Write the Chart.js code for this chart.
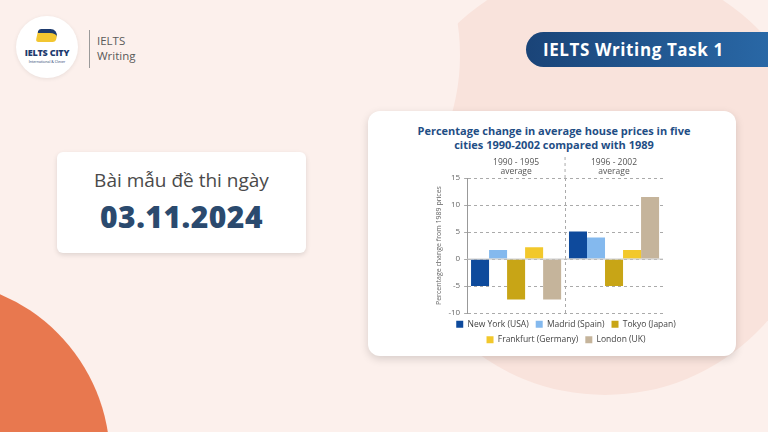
<!DOCTYPE html>
<html lang="vi">
<head>
<meta charset="UTF-8">
<title>IELTS Writing Task 1</title>
<script src="https://cdn.jsdelivr.net/npm/chart.js"></script>
<style>
    html, body {
        margin: 0;
        padding: 0;
    }
    body {
        width: 768px;
        height: 432px;
        position: relative;
        overflow: hidden;
        background: #fcf0ec;
        font-family: "Open Sans", sans-serif;
    }
    .blob {
        position: absolute;
        border-radius: 50%;
    }
    .pink { left: 390px; top: -35px; width: 430px; height: 430px; background: #f9e3dc; }
    .light { left: 30px; top: -160px; width: 430px; height: 430px; background: #fcf0ec; }
    .orange { left: -250px; top: 280px; width: 360px; height: 360px; background: #e8784f; }

    .logo {
        position: absolute;
        left: 16px; top: 16px;
        width: 62px; height: 62px;
        border-radius: 50%;
        background: #fff;
        box-shadow: 0 1px 4px rgba(0,0,0,0.08);
        text-align: center;
    }
    .logo .book {
        position: absolute;
        left: 21px; top: 13px;
        width: 20px; height: 9px;
        background: #f2c631;
        border-top: 4px solid #1d3b6e;
        border-radius: 3px 8px 3px 3px;
        transform: skewX(-12deg);
    }
    .logo .name {
        position: absolute;
        left: 0; right: 0; top: 32px;
        font-size: 9px; font-weight: 800; line-height: 10px;
        color: #1d3b6e;
        letter-spacing: -0.2px;
    }
    .logo .sub {
        position: absolute;
        left: 0; right: 0; top: 43px;
        font-size: 3.6px; line-height: 5px;
        color: #1d3b6e;
    }
    .divider {
        position: absolute;
        left: 89px; top: 30px;
        width: 1px; height: 38px;
        background: #9a9a9a;
    }
    .brand {
        position: absolute;
        left: 97px;
        font-size: 11.5px; line-height: 14px;
        color: #5a5a5a;
    }
    .banner {
        position: absolute;
        left: 526px; top: 32px;
        width: 260px; height: 35px;
        border-radius: 18px 0 0 18px;
        background: linear-gradient(90deg, #1a4478, #2a6aa9);
        color: #fff;
        font-size: 17px; font-weight: 700;
        letter-spacing: 0.6px;
        line-height: 35px;
        padding-left: 17px;
        box-sizing: border-box;
    }
    .datecard {
        position: absolute;
        left: 57px; top: 152px;
        width: 249px; height: 101px;
        background: #fff;
        border-radius: 6px;
        box-shadow: 0 2px 5px rgba(0,0,0,0.12);
        text-align: center;
    }
    .datecard .lbl {
        margin-top: 15px;
        font-size: 19px;
        color: #4a4a4a;
    }
    .datecard .date {
        margin-top: 3px;
        font-size: 30px; font-weight: 800;
        color: #2b4a6e;
        letter-spacing: 0.5px;
    }
    .card {
        position: absolute;
        left: 368px; top: 111px;
        width: 368px; height: 245px;
        background: #fff;
        border-radius: 12px;
        box-shadow: 0 3px 8px rgba(0,0,0,0.15);
    }
    .title {
        position: absolute;
        left: 368px; width: 372px; top: 124px;
        text-align: center;
        font-size: 11px; font-weight: 700; line-height: 13.5px;
        color: #1f4e85;
    }
    .chart-box {
        position: absolute;
        left: 434px; top: 156px;
        width: 264px; height: 198px;
    }
</style>
</head>
<body>
    <div class="blob pink"></div>
    <div class="blob light"></div>
    <div class="blob orange"></div>

    <div class="logo">
        <div class="book"></div>
        <div class="name">IELTS CITY</div>
        <div class="sub">International &amp; Clever</div>
    </div>
    <div class="divider"></div>
    <div class="brand" style="top: 34px">IELTS</div>
    <div class="brand" style="top: 49px">Writing</div>

    <div class="banner">IELTS Writing Task 1</div>

    <div class="datecard">
        <div class="lbl">Bài mẫu đề thi ngày</div>
        <div class="date">03.11.2024</div>
    </div>

    <div class="card"></div>
    <div class="title">Percentage change in average house prices in five<br>cities 1990-2002 compared with 1989</div>
    <div class="chart-box"><canvas id="houseChart"></canvas></div>

    <script>
        // data
        const periods = [['1990 - 1995', 'average'], ['1996 - 2002', 'average']];
        const cities = ['New York (USA)', 'Madrid (Spain)', 'Tokyo (Japan)', 'Frankfurt (Germany)', 'London (UK)'];
        const newYork = [-5, 5.1];
        const madrid = [1.7, 4];
        const tokyo = [-7.5, -5];
        const frankfurt = [2.2, 1.7];
        const london = [-7.5, 11.5];
        const yTicks = [-10, -5, 0, 5, 10, 15];

        const colors = ['#0e4a9c', '#84b9ee', '#c8a516', '#f2c82c', '#c5b49b'];
        const series = [newYork, madrid, tokyo, frankfurt, london];

        // solid light line at zero, and the period divider carried up between the labels
        const extraLines = {
            id: 'extraLines',
            afterDatasetsDraw(chart) {
                const { left, right, top } = chart.chartArea;
                const xs = chart.scales.x;
                const c = chart.ctx;
                const y0 = chart.scales.y.getPixelForValue(0);
                const mid = (xs.getPixelForValue(0) + xs.getPixelForValue(1)) / 2;
                c.save();
                c.strokeStyle = '#c8c8c8';
                c.lineWidth = 1;
                c.beginPath();
                c.moveTo(left, y0);
                c.lineTo(right, y0);
                c.stroke();
                c.strokeStyle = '#aaa';
                c.setLineDash([3, 3]);
                c.beginPath();
                c.moveTo(mid, xs.top + 1);
                c.lineTo(mid, top);
                c.stroke();
                c.restore();
            }
        };

        const ctx = document.getElementById('houseChart').getContext('2d');
        new Chart(ctx, {
            type: 'bar',
            data: {
                labels: periods,
                datasets: series.map((vals, i) => ({
                    label: cities[i],
                    data: vals,
                    backgroundColor: colors[i],
                    categoryPercentage: 0.92,
                    barPercentage: 1
                }))
            },
            options: {
                responsive: true,
                maintainAspectRatio: false,
                animation: false,
                layout: {
                    padding: 0
                },
                plugins: {
                    title: { display: false },
                    tooltip: { enabled: false },
                    legend: {
                        position: 'bottom',
                        labels: {
                            boxWidth: 7,
                            boxHeight: 7,
                            padding: 7,
                            color: '#444',
                            font: { family: 'Open Sans', size: 8.5 }
                        }
                    }
                },
                scales: {
                    x: {
                        position: 'top',
                        offset: true,
                        border: { display: false, dash: [3, 3] },
                        grid: {
                            offset: true,
                            color: c => c.index === 1 ? '#aaa' : 'rgba(0,0,0,0)',
                            drawTicks: false
                        },
                        ticks: {
                            color: '#555',
                            padding: 3,
                            maxRotation: 0,
                            font: { family: 'Open Sans', size: 8.5, lineHeight: 0.95 }
                        }
                    },
                    y: {
                        min: -10,
                        max: 15,
                        afterBuildTicks: axis => {
                            axis.ticks = yTicks.map(v => ({ value: v }));
                        },
                        border: { display: true, color: '#999', dash: [3, 3] },
                        grid: {
                            color: '#aaa',
                            tickLength: 3,
                            tickBorderDash: []
                        },
                        ticks: {
                            color: '#666',
                            padding: 4,
                            font: { family: 'Open Sans', size: 8 }
                        },
                        title: {
                            display: true,
                            text: 'Percentage change from 1989 prices',
                            color: '#666',
                            padding: 1,
                            font: { family: 'Open Sans', size: 7 }
                        }
                    },
                    // empty right axis, only keeps the plot clear of the card edge
                    yPad: {
                        position: 'right',
                        grid: { display: false },
                        border: { display: false },
                        ticks: { display: false },
                        afterFit: s => { s.width = 35; }
                    }
                }
            },
            plugins: [extraLines]
        });
    </script>
</body>
</html>
